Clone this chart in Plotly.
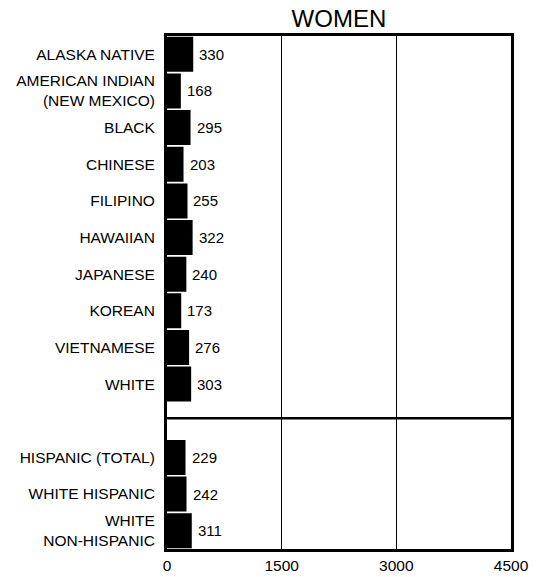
import plotly.graph_objects as go

categories = ["ALASKA NATIVE", "AMERICAN INDIAN<br>(NEW MEXICO)", "BLACK", "CHINESE", "FILIPINO",
              "HAWAIIAN", "JAPANESE", "KOREAN", "VIETNAMESE", "WHITE",
              "HISPANIC (TOTAL)", "WHITE HISPANIC", "WHITE<br>NON-HISPANIC"]
values = [330, 168, 295, 203, 255, 322, 240, 173, 276, 303, 229, 242, 311]
positions = [0, 1, 2, 3, 4, 5, 6, 7, 8, 9, 11, 12, 13]
x_ticks = [0, 1500, 3000, 4500]
separator_y = 9.93

font_family = "Arial, Liberation Sans, sans-serif"

fig = go.Figure()
fig.add_trace(go.Bar(
    x=values, y=positions, orientation="h",
    marker=dict(color="black", line=dict(width=2, color="black")),
    width=0.9, hoverinfo="skip",
))

for v, p in zip(values, positions):
    fig.add_annotation(x=v, y=p, text=str(v), showarrow=False,
                       xanchor="left", yanchor="middle", xshift=5,
                       font=dict(size=15, color="black", family=font_family))

fig.add_shape(type="line", xref="paper", x0=0, x1=1, yref="y", y0=separator_y, y1=separator_y,
              line=dict(color="black", width=2.5))

fig.update_layout(
    width=541, height=577,
    margin=dict(l=167, r=30, t=36, b=28, autoexpand=False),
    paper_bgcolor="white", plot_bgcolor="white",
    showlegend=False,
    font=dict(family=font_family, color="black", size=15),
    title=dict(text="WOMEN", x=0.6265, xanchor="center", y=0.953, yanchor="bottom",
               font=dict(size=24, family=font_family, color="black")),
    xaxis=dict(range=[0, 4500], tickvals=x_ticks, ticktext=[str(t) for t in x_ticks],
               showgrid=True, gridcolor="black", gridwidth=1,
               showline=True, linecolor="black", linewidth=3, mirror=True,
               zeroline=False, ticks="", ticklabelstandoff=0, automargin=False,
               tickfont=dict(size=15.5), fixedrange=True),
    yaxis=dict(range=[13.5, -0.5], tickvals=positions, ticktext=categories,
               showgrid=False, showline=True, linecolor="black", linewidth=3, mirror=True,
               zeroline=False, ticks="", ticklabelstandoff=6, automargin=False,
               tickfont=dict(size=15.5), fixedrange=True),
)

fig.write_html("out.html", config={"displayModeBar": False},
               post_script="document.body.style.margin='0';")
